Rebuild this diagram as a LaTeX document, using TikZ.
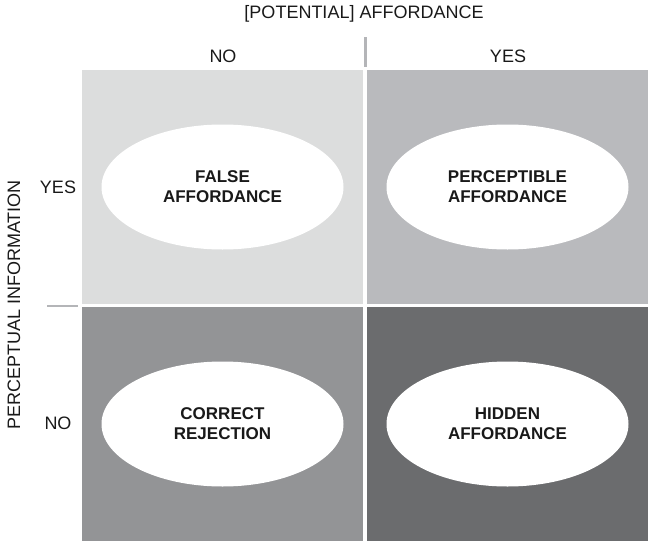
\documentclass[tikz,border=0pt]{standalone}
\usepackage{fontspec}
\setmainfont{Liberation Sans}
\usepackage{xcolor}
\usetikzlibrary{positioning,shapes.geometric}
\definecolor{qfalse}{HTML}{DCDDDD}
\definecolor{qperc}{HTML}{B9BABD}
\definecolor{qcorr}{HTML}{939496}
\definecolor{qhid}{HTML}{6B6C6E}
\definecolor{tickgray}{HTML}{B4B5B8}

\begin{document}
\begin{tikzpicture}[x=1pt,y=-1pt,every node/.style={font=\fontsize{18}{20}\selectfont,text=black!90},quad/.style={rectangle,inner sep=0,minimum width=281,minimum height=234},oval/.style={ellipse,fill=white,inner sep=0,minimum width=242,minimum height=125,align=center,font=\fontsize{17}{20}\selectfont\bfseries},axis/.style={font=\fontsize{18}{20}\selectfont}]
\useasboundingbox (0,0) rectangle (654,546);
% quadrants
\node[quad,fill=qfalse] (FA) at (222.5,187) {};
\node[quad,fill=qperc] (PA) at (507.5,187) {};
\node[quad,fill=qcorr] (CR) at (222.5,424) {};
\node[quad,fill=qhid] (HA) at (507.5,424) {};
\node[oval] (FAo) at (FA) {FALSE\\AFFORDANCE};
\node[oval] (PAo) at (PA) {PERCEPTIBLE\\AFFORDANCE};
\node[oval] (CRo) at (CR) {CORRECT\\REJECTION};
\node[oval] (HAo) at (HA) {HIDDEN\\AFFORDANCE};
% axis labels
\node[axis] (top) at (364,14) {[POTENTIAL] AFFORDANCE};
\node[axis] (colno) at (223,56) {NO};
\node[axis] (colyes) at (508,56) {YES};
\node[axis] (rowyes) at (58,187) {YES};
\node[axis] (rowno) at (58,423) {NO};
\node[axis,rotate=90] (side) at (14,305) {PERCEPTUAL INFORMATION};
% ticks
\coordinate (vt1) at (365.5,37);
\coordinate (vt2) at (365.5,67);
\coordinate (ht1) at (47,306);
\coordinate (ht2) at (78,306);
\draw[tickgray,line width=2.5] (vt1)--(vt2);\draw[tickgray,line width=2.5] (ht1)--(ht2);
\end{tikzpicture}
\end{document}
